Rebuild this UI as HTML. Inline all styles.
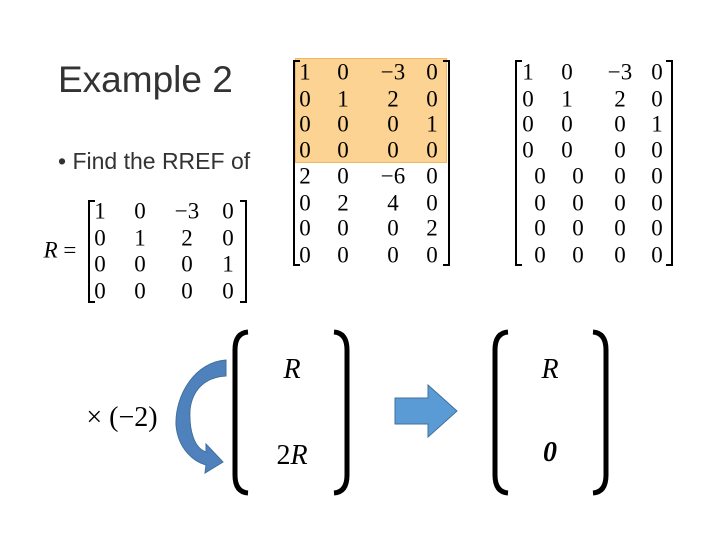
<!DOCTYPE html>
<html><head><style>
body{margin:0;width:720px;height:540px;background:#fff;position:relative;overflow:hidden;font-family:"Liberation Serif",serif}
.t{position:absolute;font-size:23px;line-height:23px;transform:translate(-50%,-50%);white-space:nowrap}
.s{font-family:"Liberation Sans",sans-serif}
.b{font-size:28px;line-height:28px}
</style></head><body>
<div style="position:absolute;left:295px;top:58px;width:152px;height:105px;background:#fdd393;border:1px solid #f0b860;box-sizing:border-box"></div>
<div class="s" style="position:absolute;left:58px;top:59px;font-size:37px;color:#333">Example 2</div>
<div class="s" style="position:absolute;left:58px;top:148px;font-size:23px;color:#333">• Find the RREF of</div>
<svg width="720" height="540" style="position:absolute;left:0;top:0" fill="none" stroke="#000" stroke-width="2">
<path d="M300 61H294V265H300M443 61H449V265H443"/>
<path d="M522 61H516V265H522M666 61H672V265H666"/>
<path d="M95 201H89V302H95M240 201H246V302H240"/>
<path d="M248 332Q235 333 235 350V475Q235 492 248 493" stroke-width="5"/>
<path d="M334 332Q347 333 347 350V475Q347 492 334 493" stroke-width="5"/>
<path d="M508 332Q495 333 495 350V475Q495 492 508 493" stroke-width="5"/>
<path d="M593 332Q606 333 606 350V475Q606 492 593 493" stroke-width="5"/>
<path d="M395 398H428V385L457 411L428 437V424H395Z" fill="#5b9bd5" stroke="#41719c" stroke-width="1"/>
<path d="M226 360C195 362 175 395 176 425C178 450 195 462 206 465L205 473L223 462L206 444L206 452C194 448 189 430 190 410C192 390 205 377 226 376Z" fill="#4f81bd" stroke="#41719c" stroke-width="1"/>
</svg>
<script>
function put(x,y,s,cls){var d=document.createElement('div');d.className='t'+(cls?' '+cls:'');d.style.left=x+'px';d.style.top=y+'px';d.innerHTML=s;document.body.appendChild(d);}
var A=[["1","0","−3","0"],["0","1","2","0"],["0","0","0","1"],["0","0","0","0"],["2","0","−6","0"],["0","2","4","0"],["0","0","0","2"],["0","0","0","0"]];
var ry=[72,99,124,150,176,203,228,255];
var c1=[305,343,393,432];
A.forEach((r,i)=>r.forEach((v,j)=>put(c1[j],ry[i],v)));
var B=[["1","0","−3","0"],["0","1","2","0"],["0","0","0","1"],["0","0","0","0"],["0","0","0","0"],["0","0","0","0"],["0","0","0","0"],["0","0","0","0"]];
B.forEach((r,i)=>r.forEach((v,j)=>{var c=i<4?[528,567,620,657]:[540,578,620,657];put(c[j],ry[i],v)}));
var C=[["1","0","−3","0"],["0","1","2","0"],["0","0","0","1"],["0","0","0","0"]];
var cy=[211,238,264,291],cc=[100,140,187,228];
C.forEach((r,i)=>r.forEach((v,j)=>put(cc[j],cy[i],v)));
put(60,250,"<i>R</i> =");
put(292,370,"<i>R</i>","b"); put(292,456,"2<i>R</i>","b");
put(550,370,"<i>R</i>","b"); put(550,453,"<b><i>0</i></b>","b");
put(122,418,"× (−2)","b");
</script>
</body></html>
